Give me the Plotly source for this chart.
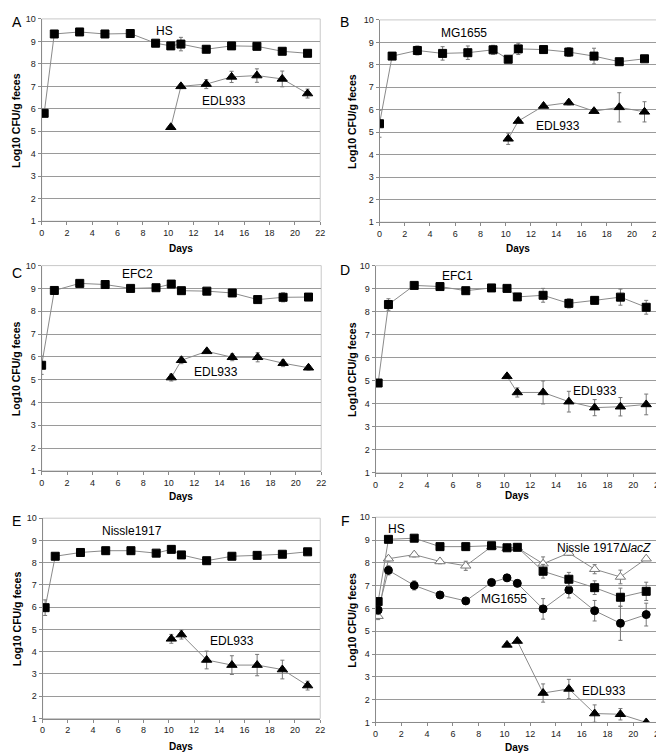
import plotly.graph_objects as go

# ---------------- data ----------------
days = [0.2, 1, 3, 5, 7, 9, 10.2, 11, 13, 15, 17, 19, 21]
days_bc = [0, 1, 3, 5, 7, 9, 10.2, 11, 13, 15, 17, 19, 21]
edl_days = [10.2, 11, 13, 15, 17, 19, 21]

a_hs = [5.8, 9.33, 9.42, 9.33, 9.35, 8.92, 8.8, 8.88, 8.65, 8.8, 8.78, 8.56, 8.47]
a_hs_err = [0.05, 0.05, 0.05, 0.05, 0.05, 0.1, 0.1, 0.3, 0.15, 0.1, 0.1, 0.1, 0.05]
a_edl = [5.18, 7.0, 7.1, 7.42, 7.48, 7.33, 6.68]
a_edl_err = [0.05, 0.1, 0.2, 0.25, 0.3, 0.35, 0.2]

b_mg = [5.38, 8.39, 8.64, 8.51, 8.54, 8.67, 8.25, 8.71, 8.68, 8.57, 8.39, 8.14, 8.27]
b_mg_err = [0.6, 0.05, 0.2, 0.3, 0.3, 0.2, 0.05, 0.25, 0.15, 0.2, 0.35, 0.05, 0.05]
b_edl = [4.71, 5.5, 6.17, 6.32, 5.94, 6.11, 5.91]
b_edl_err = [0.25, 0.05, 0.05, 0.1, 0.05, 0.65, 0.45]

c_efc2 = [5.63, 8.91, 9.22, 9.17, 9.0, 9.03, 9.19, 8.9, 8.88, 8.8, 8.51, 8.61, 8.62]
c_efc2_err = [0.4, 0.05, 0.05, 0.05, 0.05, 0.05, 0.05, 0.1, 0.05, 0.05, 0.1, 0.2, 0.05]
c_edl = [5.09, 5.85, 6.24, 5.98, 5.98, 5.72, 5.52]
c_edl_err = [0.15, 0.15, 0.05, 0.15, 0.2, 0.15, 0.1]

d_efc1 = [4.9, 8.31, 9.14, 9.09, 8.91, 9.03, 9.01, 8.64, 8.71, 8.36, 8.49, 8.63, 8.19]
d_efc1_err = [0.05, 0.25, 0.05, 0.05, 0.05, 0.05, 0.05, 0.05, 0.3, 0.2, 0.15, 0.35, 0.3]
d_edl = [5.19, 4.49, 4.49, 4.09, 3.83, 3.87, 3.97]
d_edl_err = [0.05, 0.2, 0.5, 0.45, 0.35, 0.4, 0.45]

e_nissle = [5.98, 8.29, 8.46, 8.54, 8.54, 8.43, 8.6, 8.35, 8.09, 8.29, 8.33, 8.38, 8.49]
e_nissle_err = [0.35, 0.1, 0.1, 0.15, 0.15, 0.05, 0.05, 0.05, 0.05, 0.05, 0.05, 0.05, 0.05]
e_edl = [4.58, 4.77, 3.63, 3.4, 3.4, 3.2, 2.48]
e_edl_err = [0.2, 0.2, 0.4, 0.42, 0.48, 0.42, 0.2]

f_hs = [6.3, 9.03, 9.08, 8.71, 8.71, 8.75, 8.66, 8.68, 7.63, 7.28, 6.91, 6.49, 6.75]
f_hs_err = [0.1, 0.05, 0.1, 0.05, 0.15, 0.1, 0.05, 0.1, 0.3, 0.3, 0.3, 0.4, 0.4]
f_nissle_lacz = [5.66, 8.18, 8.36, 8.06, 7.87, 8.71, 8.64, 8.66, 7.96, 8.43, 7.72, 7.38, 8.18]
f_nissle_lacz_err = [0.15, 0.1, 0.1, 0.1, 0.2, 0.1, 0.05, 0.1, 0.3, 0.1, 0.2, 0.3, 0.05]
f_mg = [5.93, 7.67, 7.01, 6.59, 6.33, 7.14, 7.34, 7.1, 5.98, 6.81, 5.9, 5.35, 5.73]
f_mg_err = [0.2, 0.2, 0.2, 0.05, 0.05, 0.1, 0.15, 0.15, 0.45, 0.35, 0.45, 0.75, 0.5]
f_edl = [4.4, 4.57, 2.29, 2.47, 1.39, 1.36, 1.0]
f_edl_err = [0.05, 0.05, 0.4, 0.42, 0.38, 0.25, 0.05]

x_ticks = list(range(0, 23, 2))
y_ticks = list(range(1, 11))
panel_letters = ["A", "B", "C", "D", "E", "F"]
y_title = "Log10 CFU/g feces"
x_title = "Days"

# ---------------- layout geometry (pixels) ----------------
W, H = 664, 753
FONT = "Liberation Sans, Arial, sans-serif"
# (x0, x1, ytop, ybottom) pixel boxes for the plot areas
boxes = [
    (31, 313, 6, 211),
    (373, 654, 7, 212),
    (31, 314, 256, 464),
    (369, 656, 256, 466),
    (32, 313, 512, 715),
    (369, 656, 511, 719),
]
ytitle_x = [5, 345, 5, 345, 6, 345]
xtitle_y = [239, 239, 490, 489, 743, 744]
letter_pos = [(6, 9), (338, 9), (6, 263), (338, 260), (6, 515), (339, 515)]

LINE = "#8a8a8a"
ERR = "#777777"

fig = go.Figure()


def add_series(i, xs, ys, errs, symbol, size, fill="black", outline="black"):
    sfx = "" if i == 0 else str(i + 1)
    fig.add_trace(go.Scatter(
        x=xs, y=ys, mode="lines+markers",
        xaxis="x" + sfx, yaxis="y" + sfx,
        line=dict(color=LINE, width=1),
        marker=dict(symbol=symbol, size=size, color=fill,
                    line=dict(color=outline, width=1)),
        error_y=dict(type="data", array=errs, visible=True,
                     color=ERR, thickness=1, width=2),
        showlegend=False, hoverinfo="x+y",
    ))


# panel A
add_series(0, days, a_hs, a_hs_err, "square", 8)
add_series(0, edl_days, a_edl, a_edl_err, "triangle-up", 9)
# panel B
add_series(1, days_bc, b_mg, b_mg_err, "square", 8)
add_series(1, edl_days, b_edl, b_edl_err, "triangle-up", 9)
# panel C
add_series(2, days_bc, c_efc2, c_efc2_err, "square", 8)
add_series(2, edl_days, c_edl, c_edl_err, "triangle-up", 9)
# panel D
add_series(3, days, d_efc1, d_efc1_err, "square", 8)
add_series(3, edl_days, d_edl, d_edl_err, "triangle-up", 9)
# panel E
add_series(4, days, e_nissle, e_nissle_err, "square", 8)
add_series(4, edl_days, e_edl, e_edl_err, "triangle-up", 9)
# panel F
add_series(5, days, f_nissle_lacz, f_nissle_lacz_err, "triangle-up", 9, fill="white", outline="#777777")
add_series(5, days, f_mg, f_mg_err, "circle", 8)
add_series(5, days, f_hs, f_hs_err, "square", 8)
add_series(5, edl_days, f_edl, f_edl_err, "triangle-up", 9)

layout = dict(
    width=W, height=H,
    margin=dict(l=0, r=0, t=0, b=0),
    paper_bgcolor="white", plot_bgcolor="white",
    font=dict(family=FONT, color="black"),
    showlegend=False,
)

annotations = []
shapes = []
for i, (x0, x1, yt, yb) in enumerate(boxes):
    sfx = "" if i == 0 else str(i + 1)
    layout["xaxis" + sfx] = dict(
        domain=[x0 / W, x1 / W], range=[0, 22], anchor="y" + sfx,
        tickvals=x_ticks, ticks="outside", ticklen=3, tickcolor=LINE,
        showline=True, linecolor=LINE, linewidth=1,
        showgrid=False, zeroline=False,
        tickfont=dict(size=9, family=FONT, color="#222"),
    )
    layout["yaxis" + sfx] = dict(
        domain=[1 - yb / H, 1 - yt / H], range=[1, 10], anchor="x" + sfx,
        tickvals=y_ticks, ticks="outside", ticklen=3, tickcolor=LINE,
        showline=True, linecolor=LINE, linewidth=1,
        showgrid=True, gridcolor="#9a9a9a", gridwidth=1, zeroline=False,
        tickfont=dict(size=9, family=FONT, color="#222"),
    )
    # light frame on top/right
    shapes.append(dict(type="rect", xref="x" + sfx + " domain", yref="y" + sfx + " domain",
                       x0=0, x1=1, y0=0, y1=1, line=dict(color="#c8c8c8", width=1),
                       layer="below"))
    # y title
    annotations.append(dict(
        xref="paper", yref="paper", x=ytitle_x[i] / W, y=1 - (yt + yb) / 2 / H,
        text="<b>" + y_title + "</b>", textangle=-90, showarrow=False,
        xanchor="center", yanchor="middle", font=dict(size=10.5, family=FONT),
    ))
    # x title
    annotations.append(dict(
        xref="paper", yref="paper", x=(x0 + x1) / 2 / W, y=1 - xtitle_y[i] / H,
        text="<b>" + x_title + "</b>", showarrow=False,
        xanchor="center", yanchor="middle", font=dict(size=10, family=FONT),
    ))
    # panel letter
    lx, ly = letter_pos[i]
    annotations.append(dict(
        xref="paper", yref="paper", x=lx / W, y=1 - ly / H,
        text=panel_letters[i], showarrow=False,
        xanchor="center", yanchor="middle", font=dict(size=14, family=FONT),
    ))

# series labels: (panel index, x, y, text)
labels = [
    (0, 9.67, 9.46, "HS"), (0, 14.4, 6.34, "EDL933"),
    (1, 6.66, 9.43, "MG1655"), (1, 14.12, 5.29, "EDL933"),
    (2, 7.57, 9.61, "EFC2"), (2, 13.69, 5.35, "EDL933"),
    (3, 6.33, 9.54, "EFC1"), (3, 17.06, 4.54, "EDL933"),
    (4, 7.07, 9.42, "Nissle1917"), (4, 15.01, 4.47, "EDL933"),
    (5, 1.59, 9.47, "HS"), (5, 17.76, 8.63, "Nissle 1917Δ<i>lacZ</i>"),
    (5, 9.95, 6.41, "MG1655"), (5, 17.71, 2.4, "EDL933"),
]
for i, x, y, t in labels:
    sfx = "" if i == 0 else str(i + 1)
    annotations.append(dict(
        xref="x" + sfx, yref="y" + sfx, x=x, y=y, text=t, showarrow=False,
        xanchor="center", yanchor="middle", font=dict(size=12, family=FONT),
    ))

layout["annotations"] = annotations
layout["shapes"] = shapes
fig.update_layout(**layout)
fig.write_html("out.html")
